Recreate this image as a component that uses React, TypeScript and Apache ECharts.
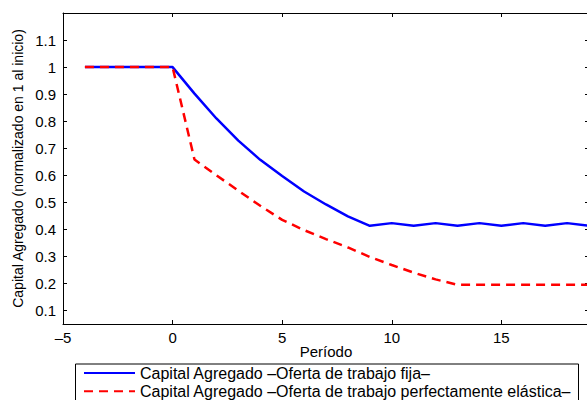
import React, { useEffect, useRef } from "react";
import * as echarts from "echarts";

const periods = [-4, -3, -2, -1, 0, 1, 2, 3, 4, 5, 6, 7, 8, 9, 10, 11, 12, 13, 14, 15, 16, 17, 18, 19];
const capitalFija = [
  1, 1, 1, 1, 1,
  0.902, 0.81, 0.728, 0.657, 0.597, 0.54, 0.492, 0.448, 0.413,
  0.423, 0.413, 0.423, 0.413, 0.423, 0.413, 0.423, 0.413, 0.423, 0.413,
];
const capitalElastica = [
  1, 1, 1, 1, 1,
  0.658, 0.6, 0.543, 0.487, 0.435, 0.397, 0.364, 0.333, 0.298, 0.268, 0.24, 0.215, 0.195,
  0.195, 0.195, 0.195, 0.195, 0.195, 0.195,
];
const xTicks = [-5, 0, 5, 10, 15];
const yTicks = [0.1, 0.2, 0.3, 0.4, 0.5, 0.6, 0.7, 0.8, 0.9, 1, 1.1];
const seriesNames = [
  "Capital Agregado \u2013Oferta de trabajo fija\u2013",
  "Capital Agregado \u2013Oferta de trabajo perfectamente el\u00e1stica\u2013",
];

const FONT = "'Liberation Sans', Arial, Helvetica, sans-serif";
const CHART_H = 430;

export default function App() {
  const ref = useRef<HTMLDivElement>(null);
  useEffect(() => {
    if (!ref.current) return;
    const chart = echarts.init(ref.current, null, { renderer: "svg" });
    const axisLine = { show: true, onZero: false, lineStyle: { color: "#000", width: 1 } };
    const tick = { show: true, inside: true, length: 4, lineStyle: { color: "#000", width: 1 } };
    const fmtX = (v: number) => (v < 0 ? "\u2013" + Math.abs(v) : String(v));
    chart.setOption({
      animation: false,
      backgroundColor: "#fff",
      grid: { left: 63, top: 13, right: 3, bottom: CHART_H - 324, containLabel: false },
      xAxis: [
        {
          type: "value",
          min: -5,
          max: 19,
          position: "bottom",
          name: "Per\u00edodo",
          nameLocation: "middle",
          nameGap: 20,
          nameMoveOverlap: false,
          nameTextStyle: { fontFamily: FONT, fontSize: 15, color: "#000" },
          axisLine,
          axisTick: { ...tick, customValues: xTicks },
          axisLabel: {
            customValues: xTicks,
            formatter: fmtX,
            margin: 6,
            fontFamily: FONT,
            fontSize: 15,
            color: "#000",
          },
          splitLine: { show: false },
        },
        {
          type: "value",
          min: -5,
          max: 19,
          position: "top",
          axisLine,
          axisTick: { ...tick, customValues: xTicks },
          axisLabel: { show: false },
          splitLine: { show: false },
        },
      ],
      yAxis: [
        {
          type: "value",
          min: 0.05,
          max: 1.2,
          position: "left",
          name: "Capital Agregado (normalizado en 1 al inicio)",
          nameLocation: "middle",
          nameGap: 38,
          nameMoveOverlap: false,
          nameTextStyle: { fontFamily: FONT, fontSize: 14, color: "#000" },
          axisLine,
          axisTick: { ...tick, customValues: yTicks },
          axisLabel: {
            customValues: yTicks,
            formatter: (v: number) => String(v),
            margin: 7,
            fontFamily: FONT,
            fontSize: 15,
            color: "#000",
          },
          splitLine: { show: false },
        },
        {
          type: "value",
          min: 0.05,
          max: 1.2,
          position: "right",
          axisLine,
          axisTick: { ...tick, customValues: yTicks },
          axisLabel: { show: false },
          splitLine: { show: false },
        },
      ],
      legend: {
        orient: "vertical",
        left: 73,
        top: 362,
        height: 60,
        padding: [3, 8, 3, 10],
        itemWidth: 51,
        itemHeight: 14,
        itemGap: 2.3,
        itemStyle: { opacity: 0 },
        textStyle: { fontFamily: FONT, fontSize: 16, color: "#000", lineHeight: 16 },
        data: seriesNames,
      },
      graphic: [
        {
          type: "rect",
          left: 73,
          top: 361.5,
          shape: { width: 503, height: 50 },
          style: { fill: "none", stroke: "#000", lineWidth: 1 },
          silent: true,
        },
      ],
      series: [
        {
          name: seriesNames[0],
          type: "line",
          data: periods.map((p, i) => [p, capitalFija[i]]),
          symbol: "none",
          lineStyle: { color: "#0000ff", width: 2.5, type: "solid" },
          itemStyle: { color: "#0000ff" },
          z: 2,
        },
        {
          name: seriesNames[1],
          type: "line",
          data: periods.map((p, i) => [p, capitalElastica[i]]),
          symbol: "none",
          lineStyle: { color: "#ff0000", width: 2.5, type: [9, 6] },
          itemStyle: { color: "#ff0000" },
          z: 3,
        },
      ],
    });
    return () => chart.dispose();
  }, []);
  return (
    <div
      style={{
        position: "fixed",
        left: 0,
        top: 0,
        width: 587,
        height: 400,
        overflow: "hidden",
        background: "#fff",
      }}
    >
      <div ref={ref} style={{ width: 592, height: CHART_H }} />
    </div>
  );
}
